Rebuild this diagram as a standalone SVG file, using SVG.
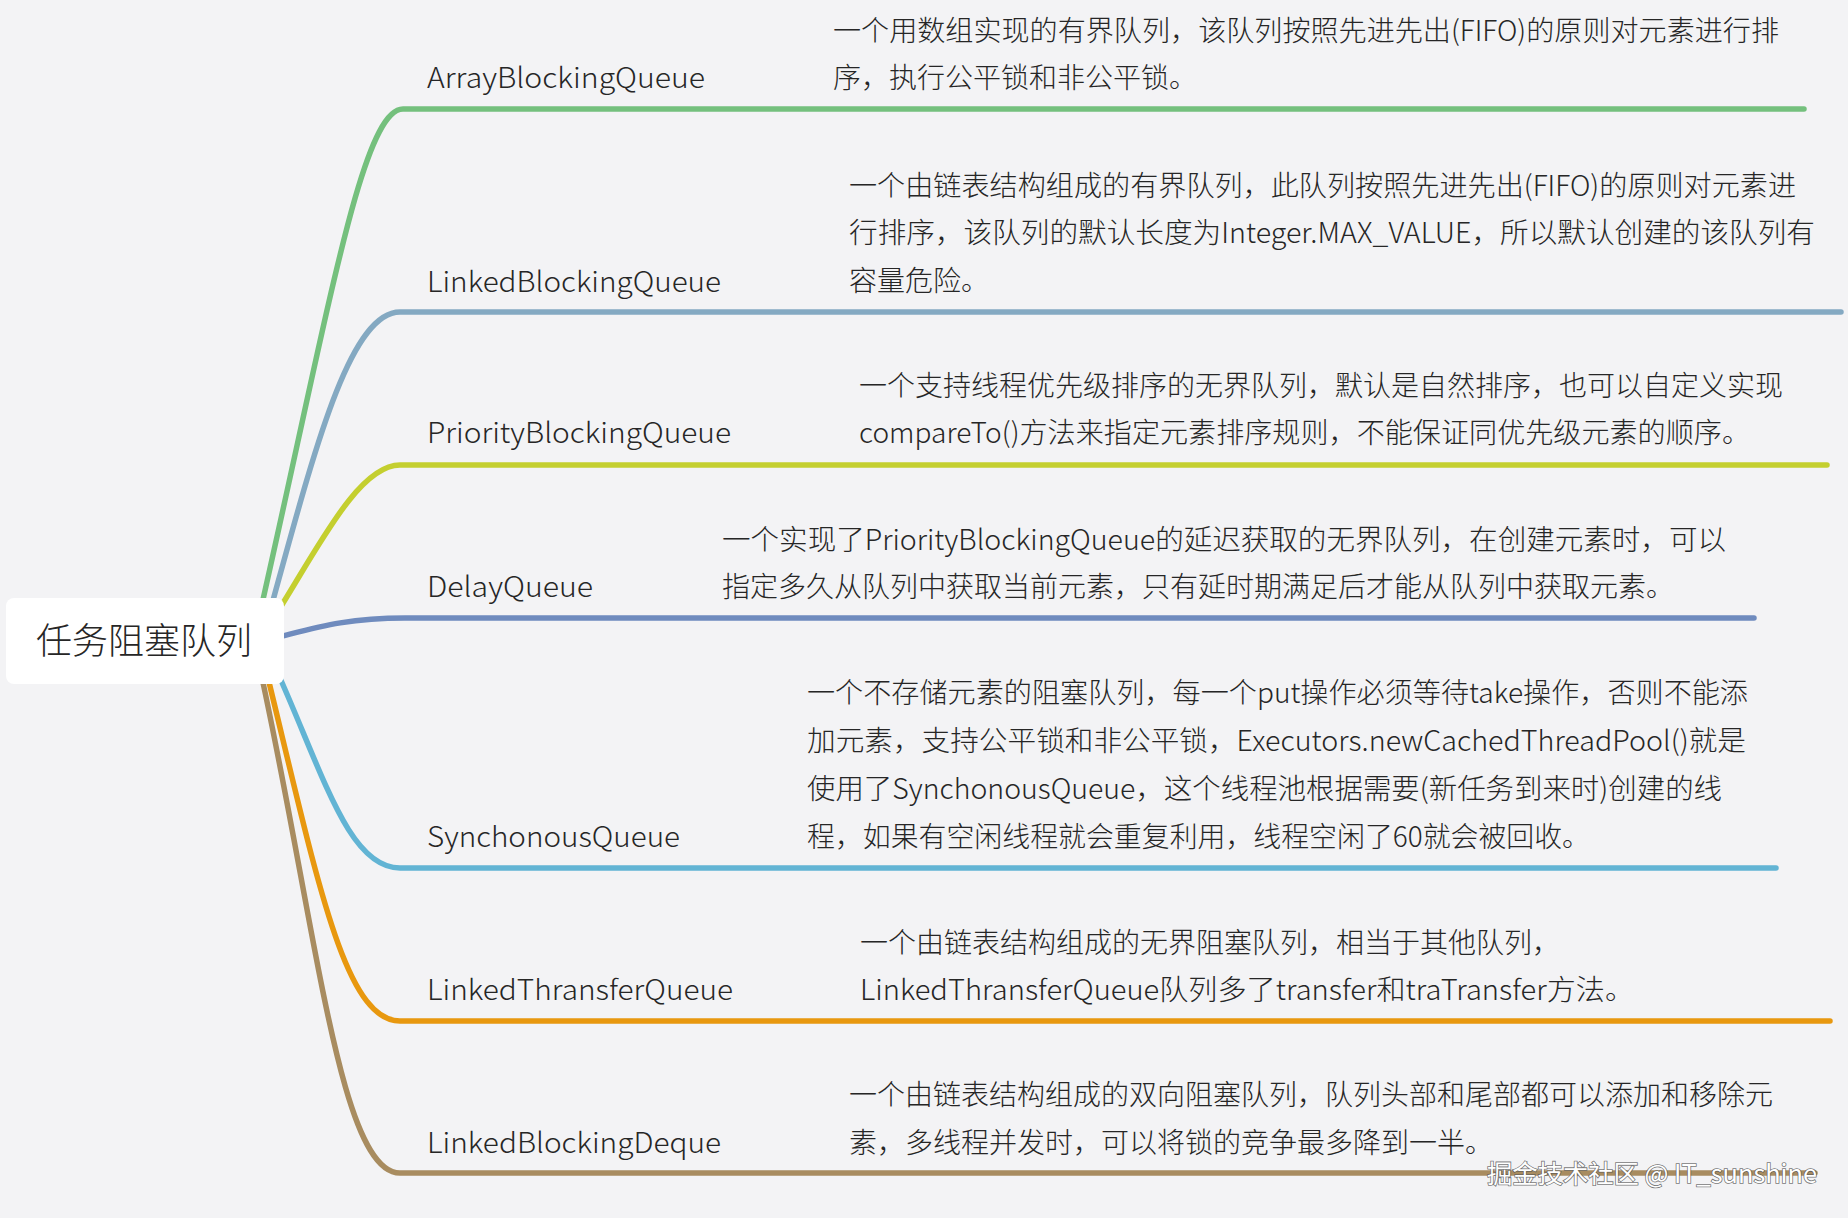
<svg xmlns="http://www.w3.org/2000/svg" width="1848" height="1218" viewBox="0 0 1848 1218">
<style>
.bg{fill:#f3f3f5}
.br{fill:none;stroke-width:5.5;stroke-linecap:round;stroke-linejoin:round}
.lbl{font-family:"Noto Sans CJK SC","Noto Sans",sans-serif;font-size:28px;font-weight:300;fill:#262626}
.desc{font-family:"Noto Sans CJK SC","Noto Sans",sans-serif;font-size:28px;font-weight:300;fill:#262626}
.root{font-family:"Noto Sans CJK SC",sans-serif;font-size:36px;font-weight:300;fill:#262626}
.wm{font-family:"Noto Sans CJK SC",sans-serif;font-size:25px;fill:#ffffff;stroke:#555555;stroke-width:1.6;paint-order:stroke;stroke-opacity:0.8}
</style>
<rect class="bg" x="0" y="0" width="1848" height="1218"/>
<g id="connectors">
<path class="br" stroke="#74c07d" d="M262 604 C331 298 363 109 403 109 L1804 109"/>
<path class="br" stroke="#84a9c2" d="M272 604 C315 448 350 312 400 312 L1841 312"/>
<path class="br" stroke="#c4cf2f" d="M280 608 C321 542 360 465 400 465 L1827 465"/>
<path class="br" stroke="#6f8bbe" d="M275 638 C315 628 345 618 405 618 L1754 618"/>
<path class="br" stroke="#62b4d4" d="M280 678 C325 780 350 868 400 868 L1776 868"/>
<path class="br" stroke="#e8980f" d="M268 678 C318 883 345 1021 400 1021 L1830 1021"/>
<path class="br" stroke="#a88c60" d="M262 678 C317 933 340 1173 400 1173 L1815 1173"/>
</g>
<g id="root">
<rect x="6" y="598" width="278" height="86" rx="8" fill="#ffffff"/>
<text class="root" x="144" y="654" text-anchor="middle">任务阻塞队列</text>
</g>
<g id="node-array">
<text class="lbl" x="427" y="88" textLength="278" lengthAdjust="spacingAndGlyphs">ArrayBlockingQueue</text>
<text class="desc" x="833" y="41" textLength="946" lengthAdjust="spacingAndGlyphs">一个用数组实现的有界队列，该队列按照先进先出(FIFO)的原则对元素进行排</text>
<text class="desc" x="833" y="88" textLength="364" lengthAdjust="spacingAndGlyphs">序，执行公平锁和非公平锁。</text>
</g>
<g id="node-linked">
<text class="lbl" x="427" y="292" textLength="294" lengthAdjust="spacingAndGlyphs">LinkedBlockingQueue</text>
<text class="desc" x="849" y="196" textLength="947" lengthAdjust="spacingAndGlyphs">一个由链表结构组成的有界队列，此队列按照先进先出(FIFO)的原则对元素进</text>
<text class="desc" x="849" y="243" textLength="966" lengthAdjust="spacingAndGlyphs">行排序，该队列的默认长度为Integer.MAX_VALUE，所以默认创建的该队列有</text>
<text class="desc" x="849" y="291" textLength="140" lengthAdjust="spacingAndGlyphs">容量危险。</text>
</g>
<g id="node-priority">
<text class="lbl" x="427" y="443" textLength="304" lengthAdjust="spacingAndGlyphs">PriorityBlockingQueue</text>
<text class="desc" x="859" y="396" textLength="924" lengthAdjust="spacingAndGlyphs">一个支持线程优先级排序的无界队列，默认是自然排序，也可以自定义实现</text>
<text class="desc" x="859" y="443" textLength="891" lengthAdjust="spacingAndGlyphs">compareTo()方法来指定元素排序规则，不能保证同优先级元素的顺序。</text>
</g>
<g id="node-delay">
<text class="lbl" x="427" y="597" textLength="166" lengthAdjust="spacingAndGlyphs">DelayQueue</text>
<text class="desc" x="722" y="550" textLength="1004" lengthAdjust="spacingAndGlyphs">一个实现了PriorityBlockingQueue的延迟获取的无界队列，在创建元素时，可以</text>
<text class="desc" x="722" y="597" textLength="952" lengthAdjust="spacingAndGlyphs">指定多久从队列中获取当前元素，只有延时期满足后才能从队列中获取元素。</text>
</g>
<g id="node-synchonous">
<text class="lbl" x="427" y="847" textLength="253" lengthAdjust="spacingAndGlyphs">SynchonousQueue</text>
<text class="desc" x="807" y="703" textLength="941" lengthAdjust="spacingAndGlyphs">一个不存储元素的阻塞队列，每一个put操作必须等待take操作，否则不能添</text>
<text class="desc" x="807" y="751" textLength="939" lengthAdjust="spacingAndGlyphs">加元素，支持公平锁和非公平锁，Executors.newCachedThreadPool()就是</text>
<text class="desc" x="807" y="799" textLength="915" lengthAdjust="spacingAndGlyphs">使用了SynchonousQueue，这个线程池根据需要(新任务到来时)创建的线</text>
<text class="desc" x="807" y="847" textLength="783" lengthAdjust="spacingAndGlyphs">程，如果有空闲线程就会重复利用，线程空闲了60就会被回收。</text>
</g>
<g id="node-transfer">
<text class="lbl" x="427" y="1000" textLength="306" lengthAdjust="spacingAndGlyphs">LinkedThransferQueue</text>
<text class="desc" x="860" y="953" textLength="700" lengthAdjust="spacingAndGlyphs">一个由链表结构组成的无界阻塞队列，相当于其他队列，</text>
<text class="desc" x="860" y="1000" textLength="774" lengthAdjust="spacingAndGlyphs">LinkedThransferQueue队列多了transfer和traTransfer方法。</text>
</g>
<g id="node-deque">
<text class="lbl" x="427" y="1153" textLength="294" lengthAdjust="spacingAndGlyphs">LinkedBlockingDeque</text>
<text class="desc" x="849" y="1105" textLength="924" lengthAdjust="spacingAndGlyphs">一个由链表结构组成的双向阻塞队列，队列头部和尾部都可以添加和移除元</text>
<text class="desc" x="849" y="1153" textLength="644" lengthAdjust="spacingAndGlyphs">素，多线程并发时，可以将锁的竞争最多降到一半。</text>
</g>
<text class="wm" x="1487" y="1183" textLength="330" lengthAdjust="spacingAndGlyphs">掘金技术社区 @ IT_sunshine</text>
</svg>
